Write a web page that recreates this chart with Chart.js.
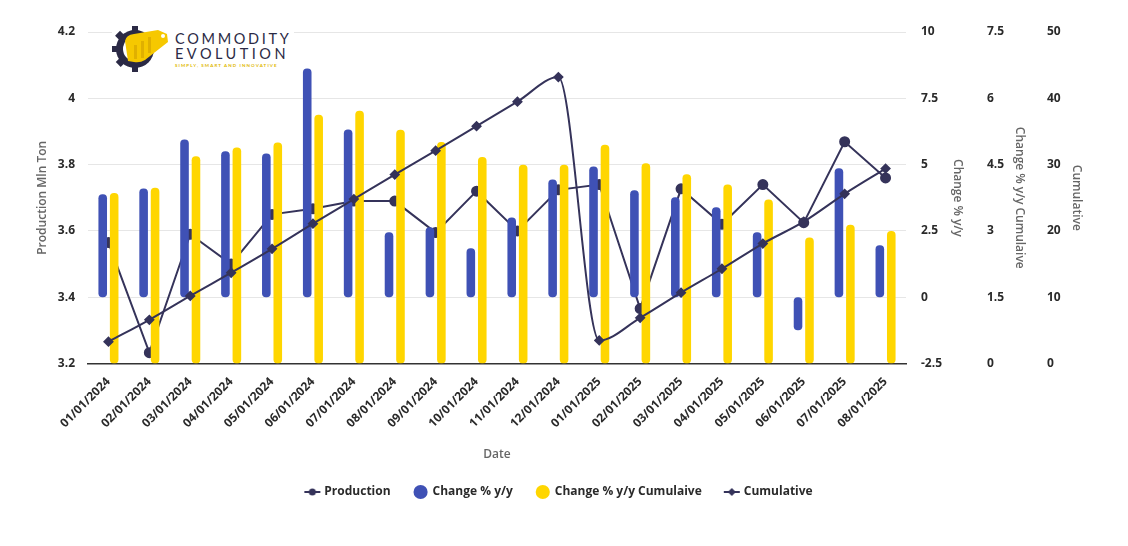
<!DOCTYPE html>
<html>
<head>
<meta charset="utf-8">
<script src="https://cdn.jsdelivr.net/npm/chart.js@4"></script>
<style>
  html, body { margin: 0; padding: 0; background: #fff; }
  #wrap { position: relative; width: 1128px; height: 546px; }
  #logo { position: absolute; left: 112px; top: 25px; width: 182px; height: 47px; background: #fff; display: flex; align-items: center; }
  #logo .txt { margin-left: 5px; font-family: 'Lato', sans-serif; color: #2b2a45; line-height: 1; margin-top: 3px; }
  #logo .t1 { font-size: 14.5px; letter-spacing: 2.7px; font-weight: 400; }
  #logo .t2 { font-size: 14.5px; letter-spacing: 3.5px; font-weight: 400; margin-top: 1px; }
  #logo .t3 { font-size: 4.5px; letter-spacing: 1.1px; color: #e0b800; font-weight: 700; margin-top: 2px; }
</style>
</head>
<body>
<div id="wrap">
  <canvas id="chart" width="1128" height="546"></canvas>
  <div id="logo">
    <svg width="58" height="47" viewBox="0 0 58 47">
      <g fill="#2b2a45">
        <circle cx="23" cy="24" r="19"/>
        <rect x="20" y="1" width="6" height="7"/>
        <rect x="20" y="40" width="6" height="7"/>
        <rect x="0" y="21" width="7" height="6"/>
        <rect x="5" y="7" width="6" height="7" transform="rotate(45 8 10)"/>
        <rect x="5" y="34" width="6" height="7" transform="rotate(-45 8 37)"/>
      </g>
      <circle cx="23" cy="24" r="12" fill="#fff"/>
      <path d="M13 16 Q14 10 22 9 L46 5 L55 9 L56 17 L33 35 Q28 38 22 37 L16 36 Z" fill="#f6c800"/>
      <circle cx="51" cy="11" r="2" fill="#fff"/>
      <g fill="#e0b000"><rect x="22" y="20" width="3" height="14"/><rect x="29" y="16" width="3" height="17"/><rect x="36" y="12" width="3" height="16"/></g>
    </svg>
    <div class="txt">
      <div class="t1">COMMODITY</div>
      <div class="t2">EVOLUTION</div>
      <div class="t3">SIMPLY, SMART AND INNOVATIVE</div>
    </div>
  </div>
</div>
<script>
'use strict';

const dates = ['01/01/2024', '02/01/2024', '03/01/2024', '04/01/2024', '05/01/2024', '06/01/2024', '07/01/2024',
  '08/01/2024', '09/01/2024', '10/01/2024', '11/01/2024', '12/01/2024', '01/01/2025', '02/01/2025', '03/01/2025',
  '04/01/2025', '05/01/2025', '06/01/2025', '07/01/2025', '08/01/2025'];

const production = [3.565, 3.233, 3.59, 3.50, 3.65, 3.667, 3.69, 3.69, 3.595, 3.72, 3.60, 3.724, 3.74, 3.366,
  3.727, 3.62, 3.74, 3.625, 3.869, 3.76];
const changeYoY = [3.88, 4.1, 5.95, 5.5, 5.42, 8.62, 6.32, 2.45, 2.64, 1.85, 3.01, 4.44, 4.93, 4.03, 3.77, 3.39,
  2.45, -1.24, 4.86, 1.96];
const changeYoYCum = [3.86, 3.98, 4.69, 4.89, 5.0, 5.63, 5.72, 5.29, 5.01, 4.67, 4.5, 4.5, 4.95, 4.53, 4.28, 4.05,
  3.71, 2.85, 3.14, 3.0];
const cumulative = [3.3, 6.6, 10.2, 13.7, 17.3, 21.1, 24.8, 28.5, 32.1, 35.8, 39.5, 43.2, 3.5, 6.9, 10.7, 14.3,
  18.1, 21.4, 25.6, 29.4];

const lineColor = '#35335a';
const blue = '#3f51b5';
const yellow = '#ffd600';
const tickColor = '#2a2a2a';
const titleColor = '#666666';
const gridColor = '#e6e6e6';
const fontFamily = "'Open Sans', sans-serif";

const tickFont = { family: fontFamily, size: 12, weight: 'bold' };
const titleFont = { family: fontFamily, size: 12, weight: '600' };

// Piccolo marker per la legenda: linea + punto
function legendMarker(style) {
  const c = document.createElement('canvas');
  c.width = 18;
  c.height = 10;
  const g = c.getContext('2d');
  g.strokeStyle = lineColor;
  g.fillStyle = lineColor;
  g.lineWidth = 2;
  g.beginPath();
  g.moveTo(1, 5);
  g.lineTo(17, 5);
  g.stroke();
  g.beginPath();
  if (style === 'circle') {
    g.arc(9, 5, 3.5, 0, Math.PI * 2);
  } else {
    g.moveTo(9, 1); g.lineTo(13, 5); g.lineTo(9, 9); g.lineTo(5, 5); g.closePath();
  }
  g.fill();
  return c;
}

// Asse destro con larghezza fissa, per allineare le colonne di etichette
function rightAxis(min, max, step, title, weight, pad, width) {
  return {
    position: 'right',
    min: min,
    max: max,
    grid: { display: false, drawTicks: false },
    border: { display: false },
    ticks: { stepSize: step, padding: pad, color: tickColor, font: tickFont },
    title: { display: true, text: title, color: titleColor, padding: { top: 4, bottom: 4 }, font: titleFont },
    weight: weight,
    afterFit: (scale) => { scale.width = width; },
  };
}

new Chart(document.getElementById('chart').getContext('2d'), {
  type: 'bar',
  data: {
    labels: dates,
    datasets: [
      {
        type: 'line',
        label: 'Production',
        data: production,
        yAxisID: 'y',
        borderColor: lineColor,
        backgroundColor: lineColor,
        borderWidth: 2,
        pointRadius: 4.5,
        pointStyle: 'circle',
        tension: 0,
        order: 4,
      },
      {
        label: 'Change % y/y',
        data: changeYoY,
        yAxisID: 'y1',
        backgroundColor: blue,
        borderRadius: 4,
        borderSkipped: false,
        categoryPercentage: 0.56,
        barPercentage: 0.75,
        order: 2,
      },
      {
        label: 'Change % y/y Cumulaive',
        data: changeYoYCum,
        yAxisID: 'y2',
        backgroundColor: yellow,
        borderRadius: 4,
        borderSkipped: false,
        categoryPercentage: 0.56,
        barPercentage: 0.75,
        order: 3,
      },
      {
        type: 'line',
        label: 'Cumulative',
        data: cumulative,
        yAxisID: 'y3',
        borderColor: lineColor,
        backgroundColor: lineColor,
        borderWidth: 2,
        pointRadius: 4,
        pointStyle: 'rectRot',
        cubicInterpolationMode: 'monotone',
        order: 1,
      },
    ],
  },
  options: {
    responsive: false,
    animation: false,
    layout: { padding: { left: 31, right: 40, top: 32, bottom: 38 } },
    plugins: {
      legend: {
        position: 'bottom',
        labels: {
          usePointStyle: true,
          boxHeight: 10,
          padding: 24,
          color: tickColor,
          font: tickFont,
          sort: (a, b) => a.datasetIndex - b.datasetIndex,
          generateLabels: function (chart) {
            const base = Chart.defaults.plugins.legend.labels.generateLabels(chart);
            base.forEach((item) => {
              if (item.text === 'Production') item.pointStyle = legendMarker('circle');
              else if (item.text === 'Cumulative') item.pointStyle = legendMarker('diamond');
              else item.pointStyle = 'circle';
            });
            return base;
          },
        },
      },
      tooltip: { enabled: false },
    },
    scales: {
      x: {
        grid: { display: false },
        border: { display: true, color: '#333333', width: 1.5 },
        ticks: { maxRotation: 45, minRotation: 45, autoSkip: false, color: tickColor, font: tickFont },
        title: { display: true, text: 'Date', color: titleColor, padding: { top: 14, bottom: 0 }, font: titleFont },
      },
      y: {
        position: 'left',
        min: 3.2,
        max: 4.2,
        grid: { color: gridColor, drawTicks: false },
        border: { display: false },
        ticks: {
          stepSize: 0.2,
          padding: 13,
          color: tickColor,
          font: tickFont,
          callback: (v) => Math.round(v * 10) / 10,
        },
        title: { display: true, text: 'Production Mln Ton', color: titleColor, padding: { top: 4, bottom: 4 }, font: titleFont },
        afterFit: (scale) => { scale.width = 57; },
      },
      y1: rightAxis(-2.5, 10, 2.5, 'Change % y/y', 1, 15, 63),
      y2: rightAxis(0, 7.5, 1.5, 'Change % y/y Cumulaive', 2, 18, 62),
      y3: rightAxis(0, 50, 10, 'Cumulative', 3, 16, 57),
    },
  },
});
</script>
</body>
</html>
